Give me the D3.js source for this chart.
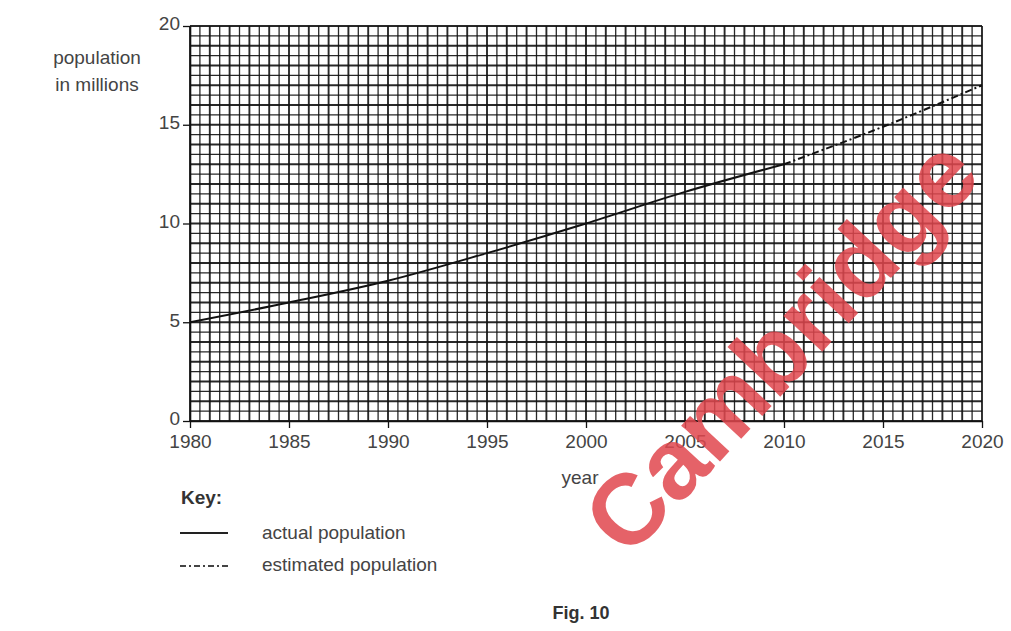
<!DOCTYPE html>
<html><head><meta charset="utf-8">
<script src="https://cdn.jsdelivr.net/npm/d3@7"></script>
<style>body{margin:0;background:#fff;}svg{display:block;font-family:"Liberation Sans",Arial,sans-serif;}</style>
</head><body>
<svg id="c" width="1011" height="631"></svg>
<script>
const actualYears = [1980, 1985, 1990, 1995, 2000, 2005, 2010];
const actualValues = [5.0, 6.0, 7.1, 8.5, 10.0, 11.6, 13.0];
const estimatedYears = [2010, 2015, 2020];
const estimatedValues = [13.0, 14.9, 17.0];
const xTicks = [1980, 1985, 1990, 1995, 2000, 2005, 2010, 2015, 2020];
const yTicks = [0, 5, 10, 15, 20];

const svg = d3.select("#c");
const x = d3.scaleLinear().domain([1980, 2020]).range([190, 982]);
const y = d3.scaleLinear().domain([0, 20]).range([421, 26]);

// grid
const g = svg.append("g");
d3.range(0, 81).forEach(i => {
  const v = 1980 + i * 0.5;
  g.append("line").attr("x1", x(v)).attr("x2", x(v)).attr("y1", y(0)).attr("y2", y(20))
    .attr("stroke", "#111").attr("stroke-width", i % 2 === 0 ? 1.9 : 1.3).attr("stroke-opacity", 0.9);
});
d3.range(0, 41).forEach(i => {
  const v = i * 0.5;
  g.append("line").attr("x1", x(1980)).attr("x2", x(2020)).attr("y1", y(v)).attr("y2", y(v))
    .attr("stroke", "#111").attr("stroke-width", i % 2 === 0 ? 1.9 : 1.3).attr("stroke-opacity", 0.9);
});

// axes
const xa = svg.append("g").attr("transform", `translate(0,${y(0)})`)
  .call(d3.axisBottom(x).tickValues(xTicks).tickFormat(d3.format("d")).tickSize(7).tickSizeOuter(0));
const ya = svg.append("g").attr("transform", `translate(${x(1980)},0)`)
  .call(d3.axisLeft(y).tickValues(yTicks).tickSize(7).tickSizeOuter(0));
[xa, ya].forEach(a => {
  a.select(".domain").attr("stroke", "#111").attr("stroke-width", 1.6);
  a.selectAll(".tick line").attr("stroke", "#111").attr("stroke-width", 1.3);
  a.selectAll("text").attr("fill", "#444").attr("font-size", 19).attr("font-family", "Liberation Sans, Arial, sans-serif");
});
xa.selectAll("text").attr("dy", "0.95em").attr("y", 9);
ya.selectAll("text").attr("x", -10).attr("dy", "0.2em");

// lines
const line = d3.line().x(d => x(d[0])).y(d => y(d[1])).curve(d3.curveMonotoneX);
svg.append("path").datum(actualYears.map((d, i) => [d, actualValues[i]]))
  .attr("d", line).attr("fill", "none").attr("stroke", "#111").attr("stroke-width", 2);
svg.append("path").datum(estimatedYears.map((d, i) => [d, estimatedValues[i]]))
  .attr("d", line).attr("fill", "none").attr("stroke", "#111").attr("stroke-width", 2)
  .attr("stroke-dasharray", "7,3,2,3");

// labels
const txt = (t, xx, yy, opts = {}) => svg.append("text").text(t).attr("x", xx).attr("y", yy)
  .attr("fill", opts.fill || "#444").attr("font-size", opts.size || 19)
  .attr("text-anchor", opts.anchor || "start").attr("font-weight", opts.weight || "normal");
txt("population", 97, 64, {anchor: "middle"});
txt("in millions", 97, 91, {anchor: "middle"});
txt("year", 580, 484, {anchor: "middle"});
txt("Key:", 181, 504, {weight: "bold", fill: "#333"});
svg.append("line").attr("x1", 180).attr("x2", 228).attr("y1", 533).attr("y2", 533).attr("stroke", "#222").attr("stroke-width", 1.8);
svg.append("line").attr("x1", 180).attr("x2", 228).attr("y1", 566).attr("y2", 566).attr("stroke", "#444").attr("stroke-width", 1.8).attr("stroke-dasharray", "6,3,2,3");
txt("actual population", 262, 539);
txt("estimated population", 262, 571);
txt("Fig. 10", 581, 619, {weight: "bold", size: 18, anchor: "middle", fill: "#333"});

// watermark
svg.append("text").text("Cambridge").attr("transform", "translate(628,560) rotate(-47)")
  .attr("font-size", 100).attr("font-weight", "bold").attr("fill", "#e0464d").attr("fill-opacity", 0.85)
  .attr("font-family", "Liberation Sans, Arial, sans-serif");
</script>
</body></html>
